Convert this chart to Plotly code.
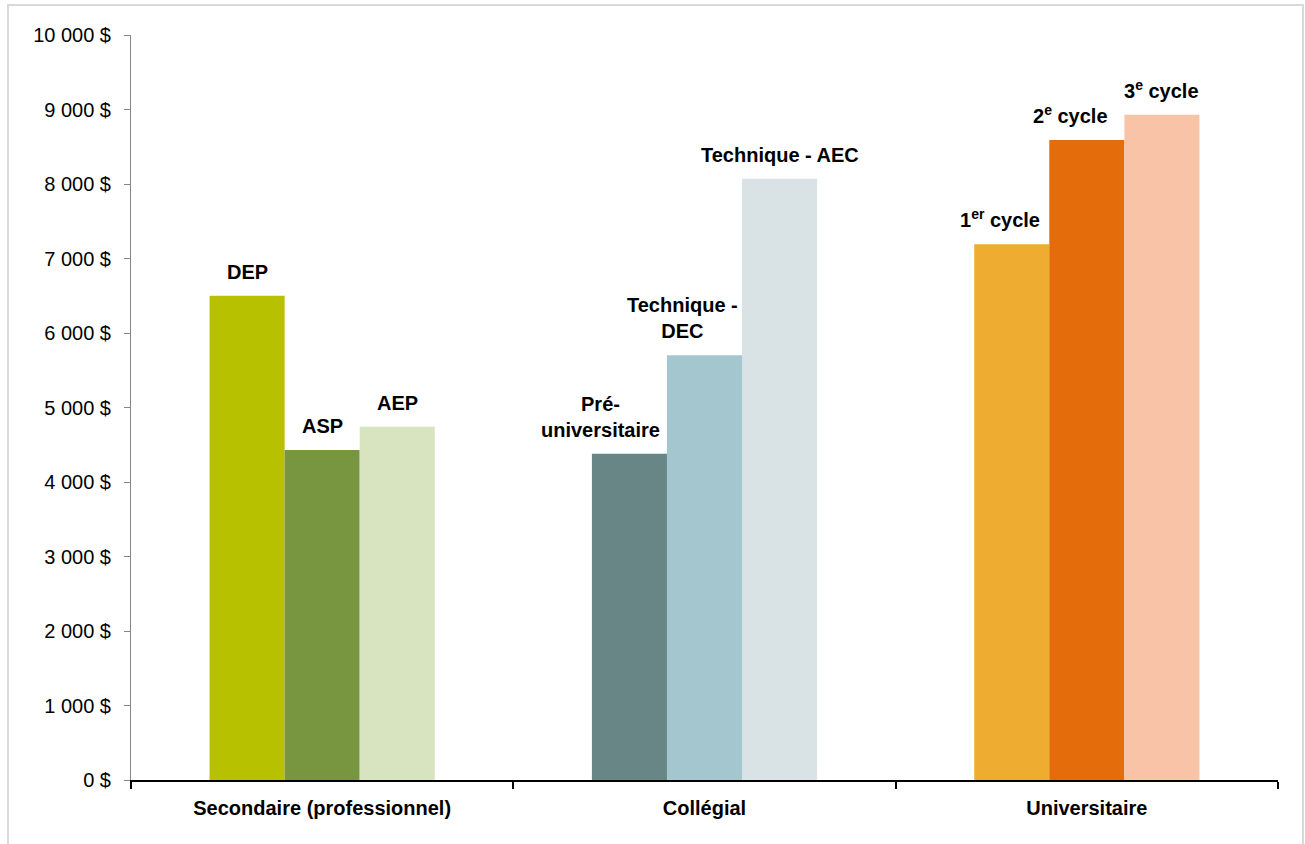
import plotly.graph_objects as go

groups = ["Secondaire (professionnel)", "Collégial", "Universitaire"]

# one trace per position inside a group (left, middle, right)
bar_labels = [
    ["DEP", "Pré-<br>universitaire", "1<sup>er</sup> cycle"],
    ["ASP", "Technique -<br>DEC", "2<sup>e</sup> cycle"],
    ["AEP", "Technique - AEC", "3<sup>e</sup> cycle"],
]
bar_values = [
    [6500, 4380, 7190],
    [4430, 5700, 8590],
    [4740, 8070, 8930],
]
bar_colors = [
    ["#b8c100", "#688686", "#eead30"],
    ["#78963f", "#a3c6cf", "#e46c0b"],
    ["#d8e4bf", "#d9e2e5", "#f9c3a8"],
]
# small horizontal nudges (px) of the labels, as in the original
label_dx = [
    [0, -29, -12],
    [0, -22, -16],
    [0, 0, 0],
]

y_ticks = list(range(0, 10001, 1000))
y_ticktext = [f"{v:,} $".replace(",", " ") for v in y_ticks]

font_family = "Liberation Sans Narrow, Arial Narrow, Liberation Sans, Arial, sans-serif"

fig = go.Figure()
for i in range(3):
    fig.add_trace(go.Bar(
        x=groups, y=bar_values[i],
        marker=dict(color=bar_colors[i], line=dict(width=0)),
        showlegend=False, hoverinfo="x+y",
    ))
    # labels above each bar
    for g, v, t, dx in zip(groups, bar_values[i], bar_labels[i], label_dx[i]):
        fig.add_annotation(
            x=g, y=v, text=f"<b>{t}</b>", showarrow=False,
            xshift=(i - 1) * 75 + dx, yshift=11, yanchor="bottom",
            font=dict(family=font_family, size=20, color="#000000"),
        )

fig.update_layout(
    width=1305, height=844,
    barmode="group", bargap=0.411, bargroupgap=0,
    plot_bgcolor="white", paper_bgcolor="white",
    margin=dict(l=131, r=27, t=35, b=64, autoexpand=False),
    font=dict(family=font_family, size=20, color="#000000"),
)

fig.update_yaxes(
    range=[0, 10000], tickvals=y_ticks, ticktext=y_ticktext,
    showgrid=False, zeroline=False, automargin=False,
    showline=True, linecolor="#868686", linewidth=1,
    ticks="outside", ticklen=6, tickcolor="#868686",
    ticklabelstandoff=9,
    tickfont=dict(size=20),
)
fig.update_xaxes(
    tickson="boundaries", ticks="outside", ticklen=7, tickcolor="#000000", tickwidth=2,
    showline=True, linecolor="#000000", linewidth=2, automargin=False,
    ticklabelstandoff=9,
    tickfont=dict(size=20, family=font_family),
    ticktext=[f"<b>{g}</b>" for g in groups], tickvals=groups,
)

# light grey frame around the chart area
fig.add_shape(type="rect", xref="paper", yref="paper",
              x0=(8 - 131) / 1147, x1=(1303 - 131) / 1147,
              y0=(780 - 850) / 745, y1=(780 - 5) / 745,
              line=dict(color="#d9d9d9", width=2), layer="below")

fig.write_html("out.html", config={"displayModeBar": False},
               post_script="document.body.style.margin='0';")
